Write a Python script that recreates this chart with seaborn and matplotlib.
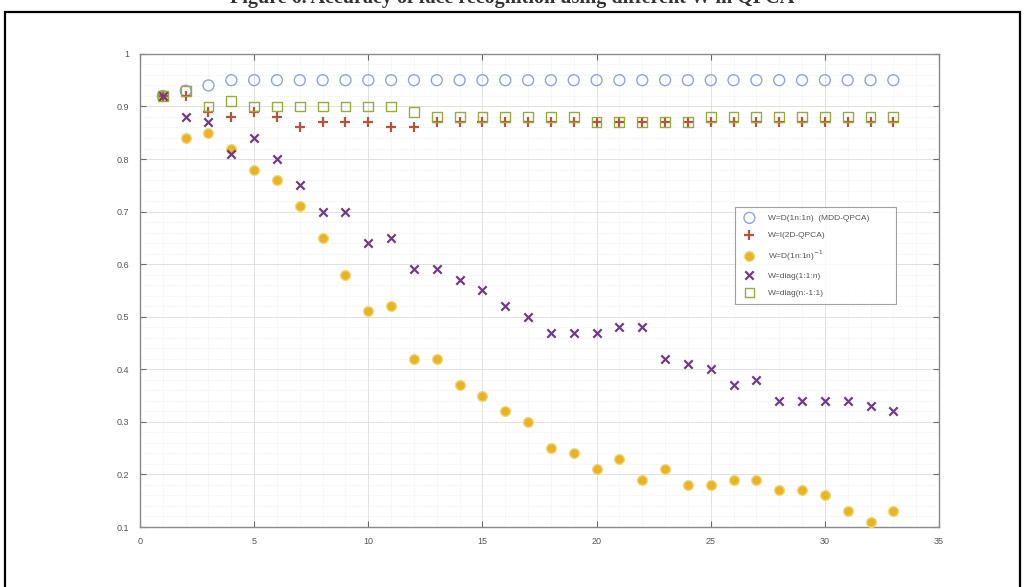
import numpy as np
import pandas as pd
import matplotlib
matplotlib.use("Agg")
import matplotlib.pyplot as plt
import seaborn as sns
from matplotlib.ticker import MultipleLocator
from matplotlib.patches import Rectangle

# ---------------------------------------------------------------------------
# data (accuracy vs. number of components)
# ---------------------------------------------------------------------------
dims = list(range(1, 34))

acc_mdd = [0.92, 0.93, 0.94] + [0.95] * 30
acc_identity = [0.92, 0.92, 0.89, 0.88, 0.89, 0.88, 0.86, 0.87, 0.87, 0.87,
                0.86, 0.86, 0.87, 0.87, 0.87, 0.87, 0.87, 0.87, 0.87, 0.87,
                0.87, 0.87, 0.87, 0.87, 0.87, 0.87, 0.87, 0.87, 0.87, 0.87,
                0.87, 0.87, 0.87]
acc_inverse = [0.92, 0.84, 0.85, 0.82, 0.78, 0.76, 0.71, 0.65, 0.58, 0.51,
               0.52, 0.42, 0.42, 0.37, 0.35, 0.32, 0.30, 0.25, 0.24, 0.21,
               0.23, 0.19, 0.21, 0.18, 0.18, 0.19, 0.19, 0.17, 0.17, 0.16,
               0.13, 0.11, 0.13]
acc_diag_up = [0.92, 0.88, 0.87, 0.81, 0.84, 0.80, 0.75, 0.70, 0.70, 0.64,
               0.65, 0.59, 0.59, 0.57, 0.55, 0.52, 0.50, 0.47, 0.47, 0.47,
               0.48, 0.48, 0.42, 0.41, 0.40, 0.37, 0.38, 0.34, 0.34, 0.34,
               0.34, 0.33, 0.32]
acc_diag_down = [0.92, 0.93, 0.90, 0.91, 0.90, 0.90, 0.90, 0.90, 0.90, 0.90,
                 0.90, 0.89, 0.88, 0.88, 0.88, 0.88, 0.88, 0.88, 0.88, 0.87,
                 0.87, 0.87, 0.87, 0.87, 0.88, 0.88, 0.88, 0.88, 0.88, 0.88,
                 0.88, 0.88, 0.88]

labels = ['W=D(1n:1n)  (MDD-QPCA)', 'W=I(2D-QPCA)', r'W=D(1n:1n)$^{-1}$',
          'W=diag(1:1:n)', 'W=diag(n:-1:1)']
caption = 'Figure 6. Accuracy of face recognition using different W in QPCA'

# ---------------------------------------------------------------------------
sns.set_style('white')
plt.rcParams['font.family'] = ['Liberation Sans', 'DejaVu Sans']

fig = plt.figure(figsize=(10.25, 5.87), dpi=100)
ax = fig.add_axes([0.1366, 0.1022, 0.7795, 0.806])

# outer frame + caption cut by the page top, as in the scan
fig.patches.append(Rectangle((0.005, -0.05), 0.99, 1.03, transform=fig.transFigure,
                             fill=False, edgecolor='black', linewidth=1.6))
fig.text(0.5, 0.9955, caption, ha='center', va='baseline', fontsize=14.5,
         family='Liberation Serif', fontweight='bold', color='#333333')

blue = '#8ea6d6'
orange = '#b5543a'
yellow = '#e8b424'
purple = '#6e3d87'
green = '#9aaa3e'

sns.scatterplot(x=dims, y=acc_mdd, ax=ax, marker='o', s=62,
                facecolors='none', edgecolor=blue, linewidth=1.0,
                label=labels[0], zorder=3)
sns.scatterplot(x=dims, y=acc_identity, ax=ax, marker='+', s=60,
                color=orange, linewidth=1.6, label=labels[1], zorder=4)
sns.scatterplot(x=dims, y=acc_inverse, ax=ax, marker='o', s=50,
                color=yellow, edgecolor='#f3d77a', linewidth=1.0,
                label=labels[2], zorder=3)
sns.scatterplot(x=dims, y=acc_diag_up, ax=ax, marker='x', s=36,
                color=purple, linewidth=1.6, label=labels[3], zorder=5)
sns.scatterplot(x=dims, y=acc_diag_down, ax=ax, marker='s', s=50,
                facecolors='none', edgecolor=green, linewidth=1.0,
                label=labels[4], zorder=4)

ax.set_xlim(0, 35)
ax.set_ylim(0.1, 1.0)
ax.xaxis.set_major_locator(MultipleLocator(5))
ax.xaxis.set_minor_locator(MultipleLocator(1))
ax.yaxis.set_minor_locator(MultipleLocator(0.02))
ax.set_yticks(np.round(np.arange(0.1, 1.01, 0.1), 1))
ax.set_yticklabels(['0.1', '0.2', '0.3', '0.4', '0.5', '0.6', '0.7', '0.8', '0.9', '1'])

ax.grid(which='major', color='#dcdcdc', linewidth=0.6)
ax.grid(which='minor', color='#e6e6e6', linewidth=0.5, linestyle=':')
ax.set_axisbelow(True)

for sp in ax.spines.values():
    sp.set_color('#8a8a8a')
    sp.set_linewidth(1.0)
ax.tick_params(which='major', direction='in', length=4, width=0.8,
               color='#6a6a6a', labelsize=6.5, labelcolor='#555555',
               top=True, right=True, bottom=True, left=True)
ax.tick_params(axis='y', pad=8)
ax.tick_params(axis='x', pad=7)
ax.tick_params(which='minor', length=0)

leg = ax.legend(loc='upper left', bbox_to_anchor=(0.745, 0.478, 0.201, 0.199),
                mode='expand', fontsize=6, frameon=True, fancybox=False,
                edgecolor='#8a8a8a', borderpad=0.9, labelspacing=1.1,
                handletextpad=1.4, handlelength=1.6, borderaxespad=0)
leg.get_frame().set_linewidth(0.8)
for t in leg.get_texts():
    t.set_color('#555555')

ax.set_xlabel('')
ax.set_ylabel('')
fig.savefig('out.png', dpi=100)
